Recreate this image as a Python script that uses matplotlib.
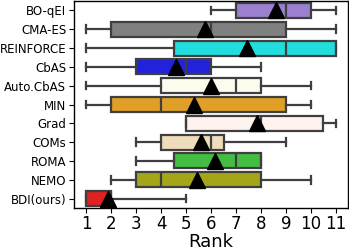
import matplotlib
matplotlib.use("Agg")
import matplotlib.pyplot as plt

methods = ["BO-qEI", "CMA-ES", "REINFORCE", "CbAS", "Auto.CbAS", "MIN",
           "Grad", "COMs", "ROMA", "NEMO", "BDI(ours)"]
mins    = [6, 1, 1, 1, 1, 1, 5, 3, 3, 2, 1]
q1s     = [7, 2, 4.5, 3, 4, 2, 5, 4, 4.5, 3, 1]
medians = [9, 6, 9, 5, 7, 4, 8, 6, 7, 4, 2]
q3s     = [10, 9, 11, 6, 8, 9, 10.5, 6.5, 8, 8, 2]
maxs    = [11, 11, 11, 8, 10, 10, 11, 9, 8, 10, 5]
means   = [8.6, 5.75, 7.45, 4.6, 6.0, 5.3, 7.85, 5.6, 6.15, 5.45, 1.85]
colors  = ["#9b80d0", "#808080", "#22dddd", "#2222dd", "#fdfbee", "#e09f27",
           "#fdf3ec", "#efdcbb", "#44bd44", "#a5a518", "#de2121"]
xticks = list(range(1, 12))

fig = plt.figure(figsize=(3.49, 2.5), dpi=100)
ax = fig.add_axes([0.212, 0.168, 0.786, 0.828])

stats = []
for i, m in enumerate(methods):
    stats.append(dict(label=m, whislo=mins[i], q1=q1s[i], med=medians[i],
                      q3=q3s[i], whishi=maxs[i], mean=means[i], fliers=[]))

lc = "#3f3f3f"
lw = 1.6
bp = ax.bxp(stats, positions=range(len(methods)), vert=False, widths=0.8,
            patch_artist=True, showmeans=True, showfliers=False,
            boxprops=dict(edgecolor=lc, linewidth=lw),
            medianprops=dict(color=lc, linewidth=lw),
            whiskerprops=dict(color=lc, linewidth=lw),
            capprops=dict(color=lc, linewidth=lw),
            meanprops=dict(marker="^", markerfacecolor="black",
                           markeredgecolor="black", markersize=11.5))
for patch, c in zip(bp["boxes"], colors):
    patch.set_facecolor(c)
for cap in bp["caps"]:
    y = cap.get_ydata()
    mid = (y[0] + y[1]) / 2
    cap.set_ydata([mid - 0.2, mid + 0.2])

ax.set_ylim(len(methods) - 0.5, -0.5)
ax.set_yticks(range(len(methods)))
ax.set_yticklabels(methods, fontsize=8.5)
ax.set_xlim(0.5, 11.5)
ax.set_xticks(xticks)
ax.set_xticklabels([str(t) for t in xticks], fontsize=12)
ax.set_xlabel("Rank", fontsize=13, labelpad=0)
ax.tick_params(axis="x", pad=1.5)
ax.tick_params(axis="y", pad=2)
for s in ax.spines.values():
    s.set_linewidth(1.0)

fig.savefig("out.png", dpi=100)
